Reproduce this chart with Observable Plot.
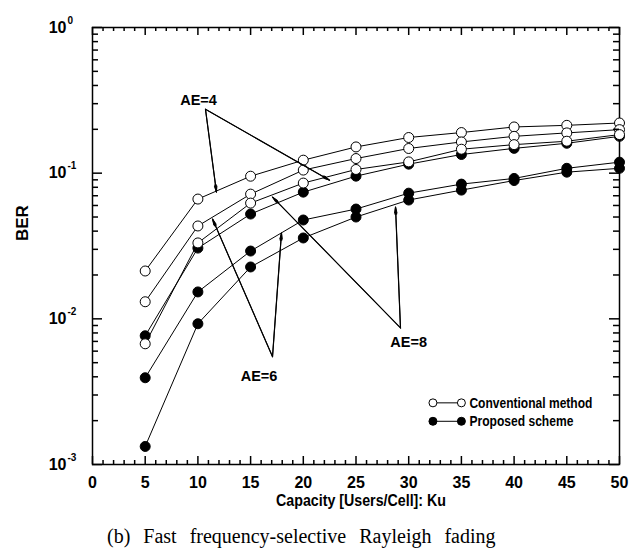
<!DOCTYPE html>
<html>
<head>
<meta charset="utf-8">
<script src="https://cdn.jsdelivr.net/npm/d3@7"></script>
<script src="https://cdn.jsdelivr.net/npm/@observablehq/plot@0.6"></script>
<style>
  body { margin: 0; background: #fff; }
  #chart svg { display: block; }
  #caption {
    font-family: "Liberation Serif", "Times New Roman", serif;
    font-size: 20px;
    word-spacing: 8px;
    height: 33px;
    line-height: 33px;
    padding-left: 107px;
    color: #000;
    white-space: nowrap;
  }
</style>
</head>
<body>
<div id="chart"></div>
<div id="caption">(b) Fast frequency-selective Rayleigh fading</div>
<script>
// ---- data ----
const capacity = [5, 10, 15, 20, 25, 30, 35, 40, 45, 50];
const conventionalAE4 = [0.0213, 0.0664, 0.0953, 0.1228, 0.1514, 0.1757, 0.190, 0.2076, 0.213, 0.221];
const conventionalAE6 = [0.0131, 0.0434, 0.0718, 0.105, 0.126, 0.1477, 0.1638, 0.179, 0.189, 0.199];
const conventionalAE8 = [0.00674, 0.0332, 0.0623, 0.0855, 0.106, 0.1195, 0.146, 0.157, 0.1657, 0.184];
const proposedAE4 = [0.00765, 0.0306, 0.0524, 0.0741, 0.0954, 0.1153, 0.1343, 0.148, 0.1604, 0.179];
const proposedAE6 = [0.00394, 0.0153, 0.0292, 0.0477, 0.0567, 0.0729, 0.0841, 0.092, 0.108, 0.119];
const proposedAE8 = [0.00133, 0.00925, 0.0227, 0.0359, 0.050, 0.0654, 0.0765, 0.089, 0.1016, 0.108];

const xTickLabels = [0, 5, 10, 15, 20, 25, 30, 35, 40, 45, 50];
const yDecades = [0.001, 0.01, 0.1, 1];
const yExponents = ["-3", "-2", "-1", "0"];

const legendLabels = ["Conventional method", "Proposed scheme"];
const legendBer = [0.00265, 0.00198];
const legendX1 = [32.3, 32.3];
const legendX2 = [35.0, 35.0];

const annotationLabels = ["AE=4", "AE=6", "AE=8"];
const annotationX = [10.06, 15.8, 30.0];
const annotationBer = [0.316, 0.0040, 0.00685];
const arrowFromX = [10.72, 10.72, 17.08, 17.08, 29.22, 29.22];
const arrowFromBer = [0.2745, 0.2745, 0.0055, 0.0055, 0.00867, 0.00867];
const arrowToX = [11.76, 22.49, 11.39, 17.93, 17.08, 28.75];
const arrowToBer = [0.0741, 0.0895, 0.0484, 0.0388, 0.0685, 0.0585];

// ---- tables ----
const series = [
  {name: "c4", method: "conventional", values: conventionalAE4},
  {name: "c6", method: "conventional", values: conventionalAE6},
  {name: "c8", method: "conventional", values: conventionalAE8},
  {name: "p4", method: "proposed", values: proposedAE4},
  {name: "p6", method: "proposed", values: proposedAE6},
  {name: "p8", method: "proposed", values: proposedAE8}
];
const rows = series.flatMap(s => capacity.map((k, i) => ({k, ber: s.values[i], series: s.name, method: s.method})));
const conv = rows.filter(d => d.method === "conventional");
const prop = rows.filter(d => d.method === "proposed");

const xMinor = d3.range(0, 51).filter(v => v % 5 !== 0);
const yMinor = yDecades.slice(0, 3).flatMap(d => d3.range(2, 10).map(m => m * d));

const legend = legendLabels.map((t, i) => ({t, y: legendBer[i], x1: legendX1[i], x2: legendX2[i], filled: i === 1}));
const annotations = annotationLabels.map((t, i) => ({t, x: annotationX[i], y: annotationBer[i]}));
const arrows = arrowFromX.map((x, i) => ({x1: x, y1: arrowFromBer[i], x2: arrowToX[i], y2: arrowToBer[i]}));
const yLab = yDecades.map((d, i) => ({d, e: yExponents[i]}));

const SANS = "'Liberation Sans', Arial, Helvetica, sans-serif";

// layout
const W = 642, H = 520, ML = 92, MR = 23, MT = 27, MB = 56;
const FW = W - ML - MR, FH = H - MT - MB;
const MAJ = 8, MIN = 4, YMAJ = 10, YMIN = 6;
const TICK = {stroke: "black", strokeWidth: 1.5};

const chart = Plot.plot({
  width: W,
  height: H,
  marginLeft: ML,
  marginRight: MR,
  marginTop: MT,
  marginBottom: MB,
  x: {domain: [0, 50], axis: null},
  y: {type: "log", domain: [0.001, 1], axis: null},
  style: {fontFamily: SANS, background: "white", color: "black"},
  marks: [
    // frame
    Plot.frame({stroke: "black", fill: "none", strokeWidth: 1.5}),
    // x tick labels
    Plot.axisX(xTickLabels, {anchor: "bottom", tickSize: 0, tickPadding: 12, fontSize: 16, fontWeight: "bold", tickFormat: d => String(d), label: null}),
    // y tick labels 10^e
    Plot.text(yLab, {y: "d", frameAnchor: "left", text: () => "10", dx: -26, textAnchor: "end", fontSize: 16, fontWeight: "bold"}),
    Plot.text(yLab, {y: "d", frameAnchor: "left", text: "e", dx: -25, dy: -7, textAnchor: "start", fontSize: 10, fontWeight: "bold"}),
    // axis labels
    Plot.text(["Capacity [Users/Cell]: Ku"], {frameAnchor: "bottom", text: d => d, dy: 41, dx: 5, fontSize: 17, fontWeight: "bold", className: "xlabel"}),
    Plot.text(["BER"], {frameAnchor: "left", text: d => d, dx: -70, dy: -5, rotate: -90, fontSize: 17, fontWeight: "bold"}),
    // data lines
    Plot.line(rows, {x: "k", y: "ber", z: "series", stroke: "black", strokeWidth: 1}),
    Plot.dot(prop, {x: "k", y: "ber", r: 5, fill: "black", stroke: "black", strokeWidth: 1}),
    Plot.dot(conv, {x: "k", y: "ber", r: 5, fill: "white", stroke: "black", strokeWidth: 1}),
    // annotations
    Plot.arrow(arrows, {x1: "x1", y1: "y1", x2: "x2", y2: "y2", stroke: "black", strokeWidth: 1, headLength: 9, headAngle: 24}),
    Plot.arrow(arrows, {x1: "x1", y1: "y1", x2: "x2", y2: "y2", stroke: "black", strokeWidth: 1.2, headLength: 9, headAngle: 12}),
    Plot.text(annotations, {x: "x", y: "y", text: "t", fontSize: 14.5, fontWeight: "bold"}),
    // legend
    Plot.link(legend, {x1: "x1", x2: "x2", y1: "y", y2: "y", stroke: "black", strokeWidth: 1}),
    Plot.dot(legend.flatMap(d => [{x: d.x1, y: d.y, f: d.filled}, {x: d.x2, y: d.y, f: d.filled}]),
      {x: "x", y: "y", r: 4, stroke: "black", fill: d => d.f ? "black" : "white", strokeWidth: 1}),
    Plot.text(legend, {x: "x2", y: "y", text: "t", dx: 8, textAnchor: "start", fontSize: 15, fontWeight: "bold", className: "legendtext"}),
    // inward ticks: bottom / top
    Plot.ruleX(xTickLabels, {x: d => d, insetTop: FH - MAJ, ...TICK}),
    Plot.ruleX(xMinor, {x: d => d, insetTop: FH - MIN, ...TICK}),
    Plot.ruleX(xTickLabels, {x: d => d, insetBottom: FH - MAJ, ...TICK}),
    Plot.ruleX(xMinor, {x: d => d, insetBottom: FH - MIN, ...TICK}),
    // inward ticks: left / right
    Plot.ruleY(yDecades, {y: d => d, insetRight: FW - YMAJ, ...TICK}),
    Plot.ruleY(yMinor, {y: d => d, insetRight: FW - YMIN, ...TICK}),
    Plot.ruleY(yDecades, {y: d => d, insetLeft: FW - YMAJ, ...TICK}),
    Plot.ruleY(yMinor, {y: d => d, insetLeft: FW - YMIN, ...TICK})
  ]
});
document.getElementById("chart").appendChild(chart);

// condensed look of the original typeface: fit texts to their widths
const legendWidths = [123, 104];
d3.select(chart).selectAll(".legendtext text").each(function(_, i) {
  d3.select(this).attr("textLength", legendWidths[i]).attr("lengthAdjust", "spacingAndGlyphs");
});
d3.select(chart).selectAll(".xlabel text").attr("textLength", 170).attr("lengthAdjust", "spacingAndGlyphs");
</script>
</body>
</html>
